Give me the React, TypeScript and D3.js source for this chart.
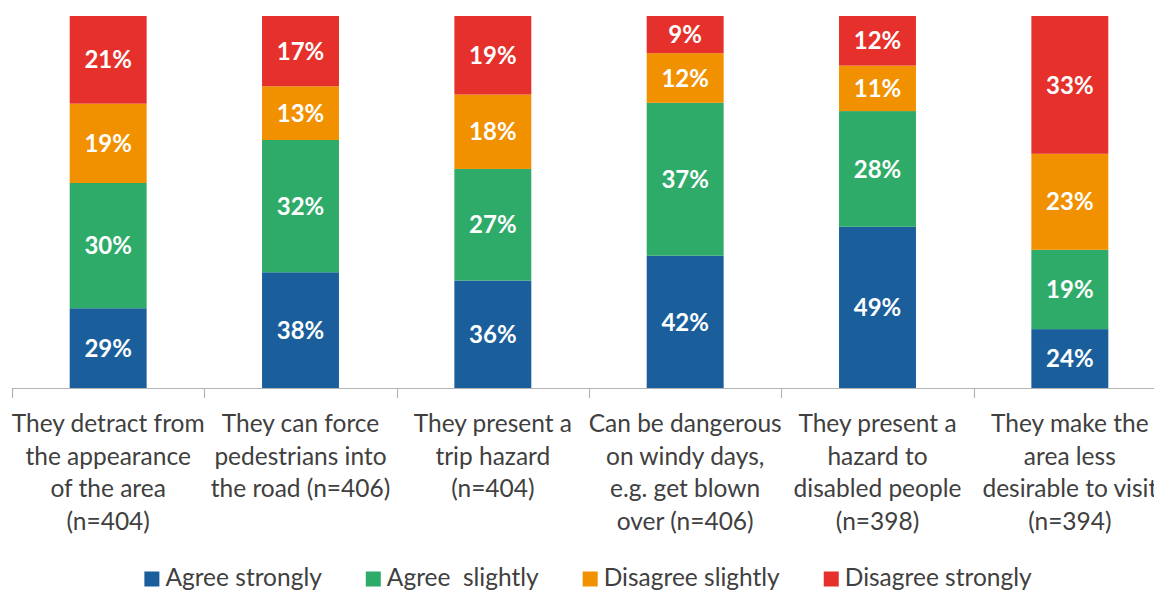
import React, { useEffect, useRef } from "react";
import * as d3 from "d3";

// Survey statements (wrapped lines) and their sample sizes
const categoryLines: string[][] = [
  ["They detract from", "the appearance", "of the area", "(n=404)"],
  ["They can force", "pedestrians into", "the road (n=406)"],
  ["They present a", "trip hazard", "(n=404)"],
  ["Can be dangerous", "on windy days,", "e.g. get blown", "over (n=406)"],
  ["They present a", "hazard to", "disabled people", "(n=398)"],
  ["They make the", "area less", "desirable to visit", "(n=394)"],
];

const seriesNames = ["Agree strongly", "Agree  slightly", "Disagree slightly", "Disagree strongly"];
const seriesColors = ["#1a5f9c", "#2eab69", "#f29100", "#e5302b"];

// Percentages per statement, one array per response
const agreeStrongly = [29, 38, 36, 42, 49, 24];
const agreeSlightly = [30, 32, 27, 37, 28, 19];
const disagreeSlightly = [19, 13, 18, 12, 11, 23];
const disagreeStrongly = [21, 17, 19, 9, 12, 33];

// Value axis (100% stacked) starts at 10%
const yDomain = [0.1, 1];

const W = 1154;
const H = 592;
const FONT = "Lato, 'Open Sans', sans-serif";
const FS = 24.5;
const LABEL_FS = 24;

export default function App() {
  const ref = useRef<SVGSVGElement | null>(null);

  useEffect(() => {
    const svg = d3.select(ref.current);
    svg.selectAll("*").remove();

    const keys = ["as", "ag", "ds", "dd"];
    const rows = categoryLines.map((_, i) => ({
      idx: i,
      as: agreeStrongly[i],
      ag: agreeSlightly[i],
      ds: disagreeSlightly[i],
      dd: disagreeStrongly[i],
    }));

    const stack = d3
      .stack<any>()
      .keys(keys)
      .offset(d3.stackOffsetExpand);
    const series = stack(rows);

    const x = d3
      .scaleBand<number>()
      .domain(rows.map((r) => r.idx))
      .range([12, 1166])
      .paddingInner(0.6)
      .paddingOuter(0.3);

    const y = d3.scaleLinear().domain(yDomain).range([388, 16]);
    const [yBottom, yTop] = [y.range()[0], y.range()[1]];

    const defs = svg.append("defs");
    defs
      .append("clipPath")
      .attr("id", "plotClip")
      .append("rect")
      .attr("x", 0)
      .attr("y", yTop)
      .attr("width", W)
      .attr("height", yBottom - yTop);

    const plot = svg.append("g").attr("clip-path", "url(#plotClip)");

    series.forEach((s, si) => {
      const g = plot.append("g").attr("fill", seriesColors[si]);
      g.selectAll("rect")
        .data(s)
        .join("rect")
        .attr("x", (d: any) => x(d.data.idx)!)
        .attr("width", x.bandwidth())
        .attr("y", (d: any) => y(d[1]))
        .attr("height", (d: any) => y(d[0]) - y(d[1]));
    });

    // Value labels, centred in the visible part of each segment
    const labels = svg.append("g");
    series.forEach((s, si) => {
      const key = keys[si];
      labels
        .selectAll(`text.l${si}`)
        .data(s)
        .join("text")
        .attr("class", `l${si}`)
        .attr("x", (d: any) => x(d.data.idx)! + x.bandwidth() / 2)
        .attr("y", (d: any) => {
          const top = Math.max(y(d[1]), yTop);
          const bot = Math.min(y(d[0]), yBottom);
          return (top + bot) / 2;
        })
        .attr("dy", "0.36em")
        .attr("text-anchor", "middle")
        .attr("fill", "#ffffff")
        .attr("font-family", FONT)
        .attr("font-weight", "bold")
        .attr("font-size", LABEL_FS)
        .text((d: any) => `${d.data[key]}%`);
    });

    // Category axis
    const axis = svg.append("g");
    const [r0, r1] = x.range();
    axis
      .append("line")
      .attr("x1", r0)
      .attr("x2", r1)
      .attr("y1", yBottom + 0.5)
      .attr("y2", yBottom + 0.5)
      .attr("stroke", "#b3b3b3")
      .attr("stroke-width", 1.2);
    const ticks = d3.range(rows.length + 1).map((i) => r0 + i * x.step());
    axis
      .selectAll("line.tick")
      .data(ticks)
      .join("line")
      .attr("class", "tick")
      .attr("x1", (d) => Math.round(d) + 0.5)
      .attr("x2", (d) => Math.round(d) + 0.5)
      .attr("y1", yBottom)
      .attr("y2", yBottom + 10)
      .attr("stroke", "#b3b3b3")
      .attr("stroke-width", 1.2);

    const catG = axis
      .selectAll("text.cat")
      .data(rows)
      .join("text")
      .attr("class", "cat")
      .attr("text-anchor", "middle")
      .attr("font-family", FONT)
      .attr("font-size", FS)
      .attr("fill", "#404040");
    catG
      .selectAll("tspan")
      .data((r: any) => categoryLines[r.idx].map((t) => ({ t, idx: r.idx })))
      .join("tspan")
      .attr("x", (d: any) => x(d.idx)! + x.bandwidth() / 2)
      .attr("y", (_d: any, i: number) => 432 + i * 32.5)
      .text((d: any) => d.t);

    // Legend, laid out from measured text widths and centred
    const legend = svg.append("g");
    const items = seriesNames.map((name, i) => {
      const g = legend.append("g");
      g.append("rect")
        .attr("width", 15)
        .attr("height", 15)
        .attr("y", 571.5)
        .attr("fill", seriesColors[i]);
      const t = g
        .append("text")
        .attr("x", 21)
        .attr("y", 586)
        .attr("font-family", FONT)
        .attr("font-size", FS)
        .attr("fill", "#404040")
        .attr("xml:space", "preserve")
        .style("white-space", "pre")
        .text(name);
      const w = (t.node() as SVGTextElement).getComputedTextLength();
      return { g, w: 21 + w };
    });
    const gap = 44;
    const total = d3.sum(items, (d) => d.w) + gap * (items.length - 1);
    let cx = 588 - total / 2;
    items.forEach((it) => {
      it.g.attr("transform", `translate(${cx},0)`);
      cx += it.w + gap;
    });
  }, []);

  return (
    <svg
      ref={ref}
      width={W}
      height={H}
      style={{ position: "absolute", left: 0, top: 0, background: "#fff" }}
    />
  );
}
